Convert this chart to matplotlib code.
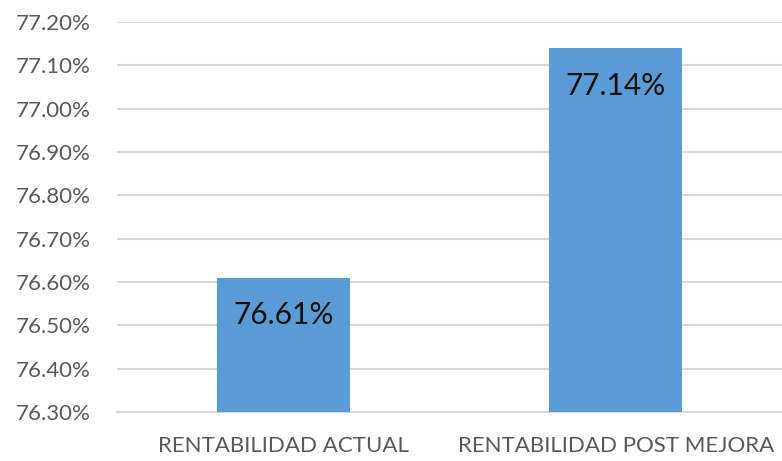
import matplotlib
matplotlib.use("Agg")
import matplotlib.pyplot as plt
from matplotlib.ticker import FuncFormatter

categories = ["RENTABILIDAD ACTUAL", "RENTABILIDAD POST MEJORA"]
values = [76.61, 77.14]
y_ticks = [76.30, 76.40, 76.50, 76.60, 76.70, 76.80, 76.90, 77.00, 77.10, 77.20]

BAR = "#5B9BD5"
GRID = "#D9D9D9"
TXT = "#595959"

plt.rcParams["font.family"] = ["Lato", "DejaVu Sans"]

fig = plt.figure(figsize=(7.82, 4.61), dpi=100)
ax = fig.add_axes([117 / 782, 1 - 412 / 461, 1 - 117 / 782, (412 - 22) / 461])

x = range(len(categories))
bars = ax.bar(x, values, width=0.4, color=BAR, zorder=3)
ax.set_xlim(-0.5, len(categories) - 0.5)
ax.set_ylim(y_ticks[0], y_ticks[-1])
ax.set_yticks(y_ticks)
ax.yaxis.set_major_formatter(FuncFormatter(lambda v, _: f"{v:.2f}%"))
ax.set_xticks(list(x))
ax.set_xticklabels(categories)

ax.grid(axis="y", color=GRID, lw=1.5, zorder=0)
for s in ["top", "right", "left"]:
    ax.spines[s].set_visible(False)
ax.spines["bottom"].set_color(GRID)
ax.spines["bottom"].set_linewidth(1.5)
ax.tick_params(axis="both", length=0, colors=TXT)
ax.tick_params(axis="y", pad=19, labelsize=16)
ax.tick_params(axis="x", pad=17, labelsize=16)

for b, v in zip(bars, values):
    ax.annotate(f"{v:.2f}%", (b.get_x() + b.get_width() / 2, v),
                xytext=(0, -27), textcoords="offset points",
                ha="center", va="center", fontsize=21.5, color="#111111", zorder=4)

fig.savefig("out.png", dpi=100)
